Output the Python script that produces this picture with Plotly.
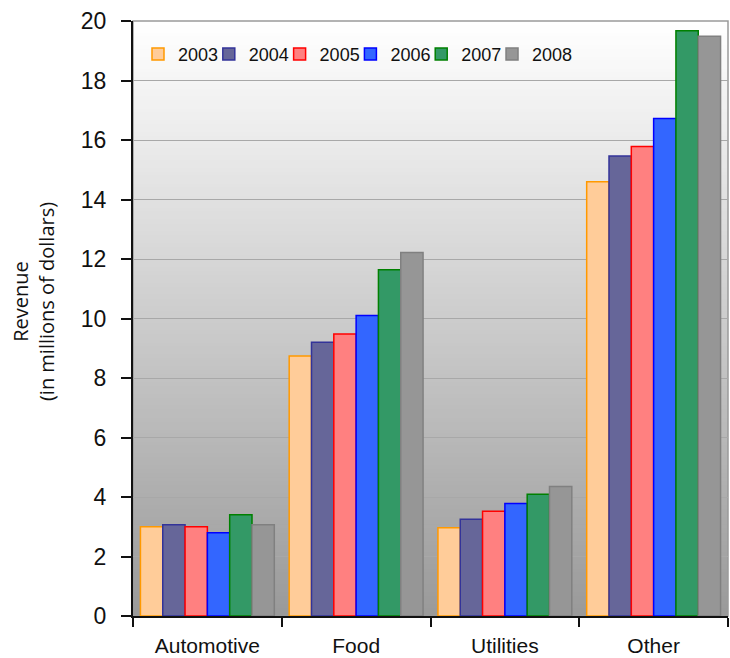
import plotly.graph_objects as go

# Revenue by sector, 2003-2008 (millions of dollars)
categories = ["Automotive", "Food", "Utilities", "Other"]
years = ["2003", "2004", "2005", "2006", "2007", "2008"]

rev_2003 = [3.0, 8.74, 2.97, 14.6]
rev_2004 = [3.07, 9.2, 3.25, 15.46]
rev_2005 = [3.0, 9.48, 3.52, 15.78]
rev_2006 = [2.8, 10.1, 3.78, 16.72]
rev_2007 = [3.4, 11.64, 4.09, 19.67]
rev_2008 = [3.07, 12.22, 4.35, 19.49]

y_ticks = [0, 2, 4, 6, 8, 10, 12, 14, 16, 18, 20]

series = [rev_2003, rev_2004, rev_2005, rev_2006, rev_2007, rev_2008]
fills = ["#FFCC99", "#666699", "#FF8080", "#3366FF", "#339966", "#969696"]
edges = ["#FF9900", "#333399", "#FF0000", "#0000FF", "#008000", "#808080"]

FONT = "Liberation Sans, Arial, sans-serif"

fig = go.Figure()
legend_ids = ["legend" if i == 0 else f"legend{i + 1}" for i in range(len(years))]
for name, vals, fc, ec, lid in zip(years, series, fills, edges, legend_ids):
    fig.add_trace(go.Bar(
        name=name, x=categories, y=vals,
        marker=dict(color=fc, line=dict(color=ec, width=1.5)),
        legend=lid,  # one legend box per year keeps the row compact
    ))

# vertical white-to-gray gradient behind the plot area, built from nested rects
shapes = []
N = 150
for k in range(N):
    h = (N - k) / N
    g = int(round(153 + 102 * h))
    shapes.append(dict(
        type="rect", xref="x domain", yref="y domain",
        x0=0, x1=1, y0=0, y1=h, layer="below",
        fillcolor=f"rgb({g},{g},{g})", line=dict(width=0),
    ))
# thin frame around the plot area
shapes.append(dict(
    type="rect", xref="x domain", yref="y domain",
    x0=0, x1=1, y0=0, y1=1, layer="below",
    line=dict(color="#9a9a9a", width=1.5),
))

legend_common = dict(
    orientation="h", yanchor="top", xanchor="left", y=0.975,
    bgcolor="rgba(0,0,0,0)", font=dict(size=18, family=FONT, color="#111111"),
    itemwidth=30,
)
legend_layout = {}
for i, lid in enumerate(legend_ids):
    legend_layout[lid] = dict(legend_common, x=0.0084 + i * 0.119)

fig.update_layout(
    width=730, height=658,
    margin=dict(l=133, r=2, t=21, b=42),
    paper_bgcolor="white", plot_bgcolor="white",
    barmode="group", bargap=0.1, bargroupgap=0,
    font=dict(family=FONT, color="#111111"),
    shapes=shapes,
    showlegend=True,
    xaxis=dict(
        type="category", tickson="boundaries", ticks="outside", ticklen=9,
        tickcolor="#111111", tickwidth=1.5,
        showline=True, linecolor="#111111", linewidth=2, layer="below traces",
        tickfont=dict(size=21, family=FONT, color="#111111"),
        ticklabelstandoff=10,
        showgrid=False,
    ),
    yaxis=dict(
        range=[0, 20], tickvals=y_ticks, ticks="outside", ticklen=10,
        tickcolor="#111111", tickwidth=1.5,
        showline=True, linecolor="#111111", linewidth=2,
        tickfont=dict(size=23, family=FONT, color="#111111"),
        ticklabelstandoff=10,
        showgrid=True, gridcolor="#a8a8a8", gridwidth=1.2,
        zeroline=False,
    ),
    annotations=[dict(
        text="Revenue<br>(in millions of dollars)",
        xref="paper", yref="paper", x=-0.166, y=0.528,
        xanchor="center", yanchor="middle", textangle=-90,
        showarrow=False,
        font=dict(size=20, family="Open Sans, sans-serif", color="#111111"),
    )],
    **legend_layout,
)

fig.write_html("out.html")
